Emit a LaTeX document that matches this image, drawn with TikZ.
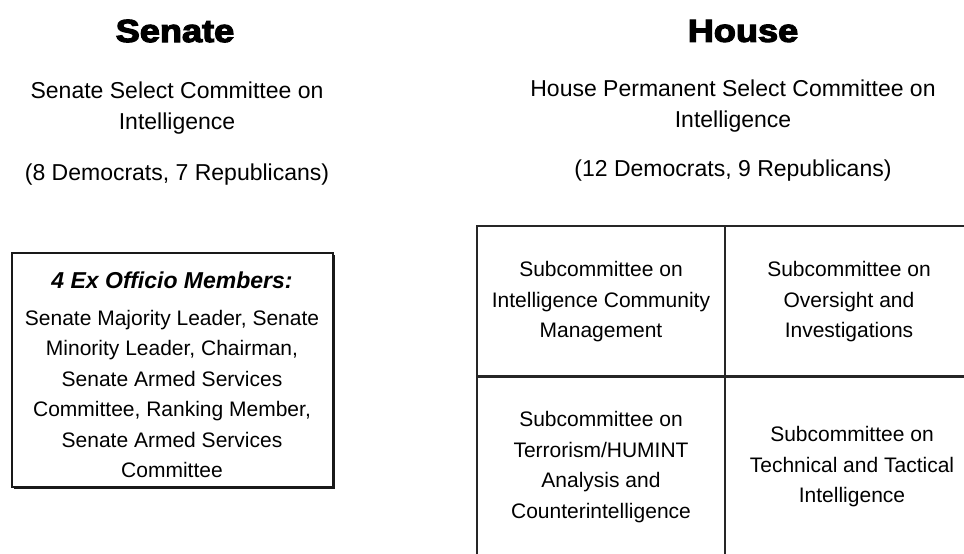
\documentclass[tikz,border=0pt]{standalone}
\usepackage{fontspec}
\setmainfont{Liberation Sans}
\newfontfamily\heavyfont{Liberation Sans}[BoldFeatures={FakeBold=3.5}]
\tikzset{
  heading/.style={inner sep=0pt, font=\heavyfont\bfseries\fontsize{32}{32}\selectfont},
  hdr/.style={inner sep=0pt, align=center, font=\fontsize{23}{31.5}\selectfont},
  body/.style={inner sep=0pt, align=center, font=\fontsize{21}{30.5}\selectfont},
  frame/.style={draw=black!90, line width=2.4pt},
  gridline/.style={draw=black!85, line width=2pt},
}
\begin{document}
\begin{tikzpicture}[x=1pt,y=-1pt]
\useasboundingbox (0,0) rectangle (964,554);
\fill[white] (0,0) rectangle (964,554);

% Senate column
\node[heading] (senh) at (175,31) {\scalebox{1.13}[1]{Senate}};
\node[hdr] (senc) at (177,108) {Senate Select Committee on\\Intelligence};
\node[hdr] (senp) at (177,175) {(8 Democrats, 7 Republicans)};

\draw[frame] (12,253) rectangle (333,487);
\draw[black!90, line width=1pt] (14,488.5) -- (334.5,488.5) -- (334.5,255);
\node[inner sep=0pt, font=\bfseries\itshape\fontsize{23}{23}\selectfont] (extitle) at (172,280) {4 Ex Officio Members:};
\node[body] (exbody) at (172,394) {Senate Majority Leader, Senate\\Minority Leader, Chairman,\\Senate Armed Services\\Committee, Ranking Member,\\Senate Armed Services\\Committee};

% House column
\node[heading] (househ) at (743,31) {\scalebox{1.13}[1]{House}};
\node[hdr] (housec) at (733,106) {House Permanent Select Committee on\\Intelligence};
\node[hdr] (housep) at (733,171) {(12 Democrats, 9 Republicans)};

% subcommittee grid
\draw[gridline] (477,554) -- (477,226) -- (964,226);
\draw[gridline] (725,226) -- (725,554);
\draw[gridline, line width=3pt] (477,376) -- (964,376);

\node[body] (s1) at (601,302) {Subcommittee on\\Intelligence Community\\Management};
\node[body] (s2) at (849,302) {Subcommittee on\\Oversight and\\Investigations};
\node[body] (s3) at (601,467) {Subcommittee on\\Terrorism/HUMINT\\Analysis and\\Counterintelligence};
\node[body] (s4) at (852,467) {Subcommittee on\\Technical and Tactical\\Intelligence};
\end{tikzpicture}
\end{document}
